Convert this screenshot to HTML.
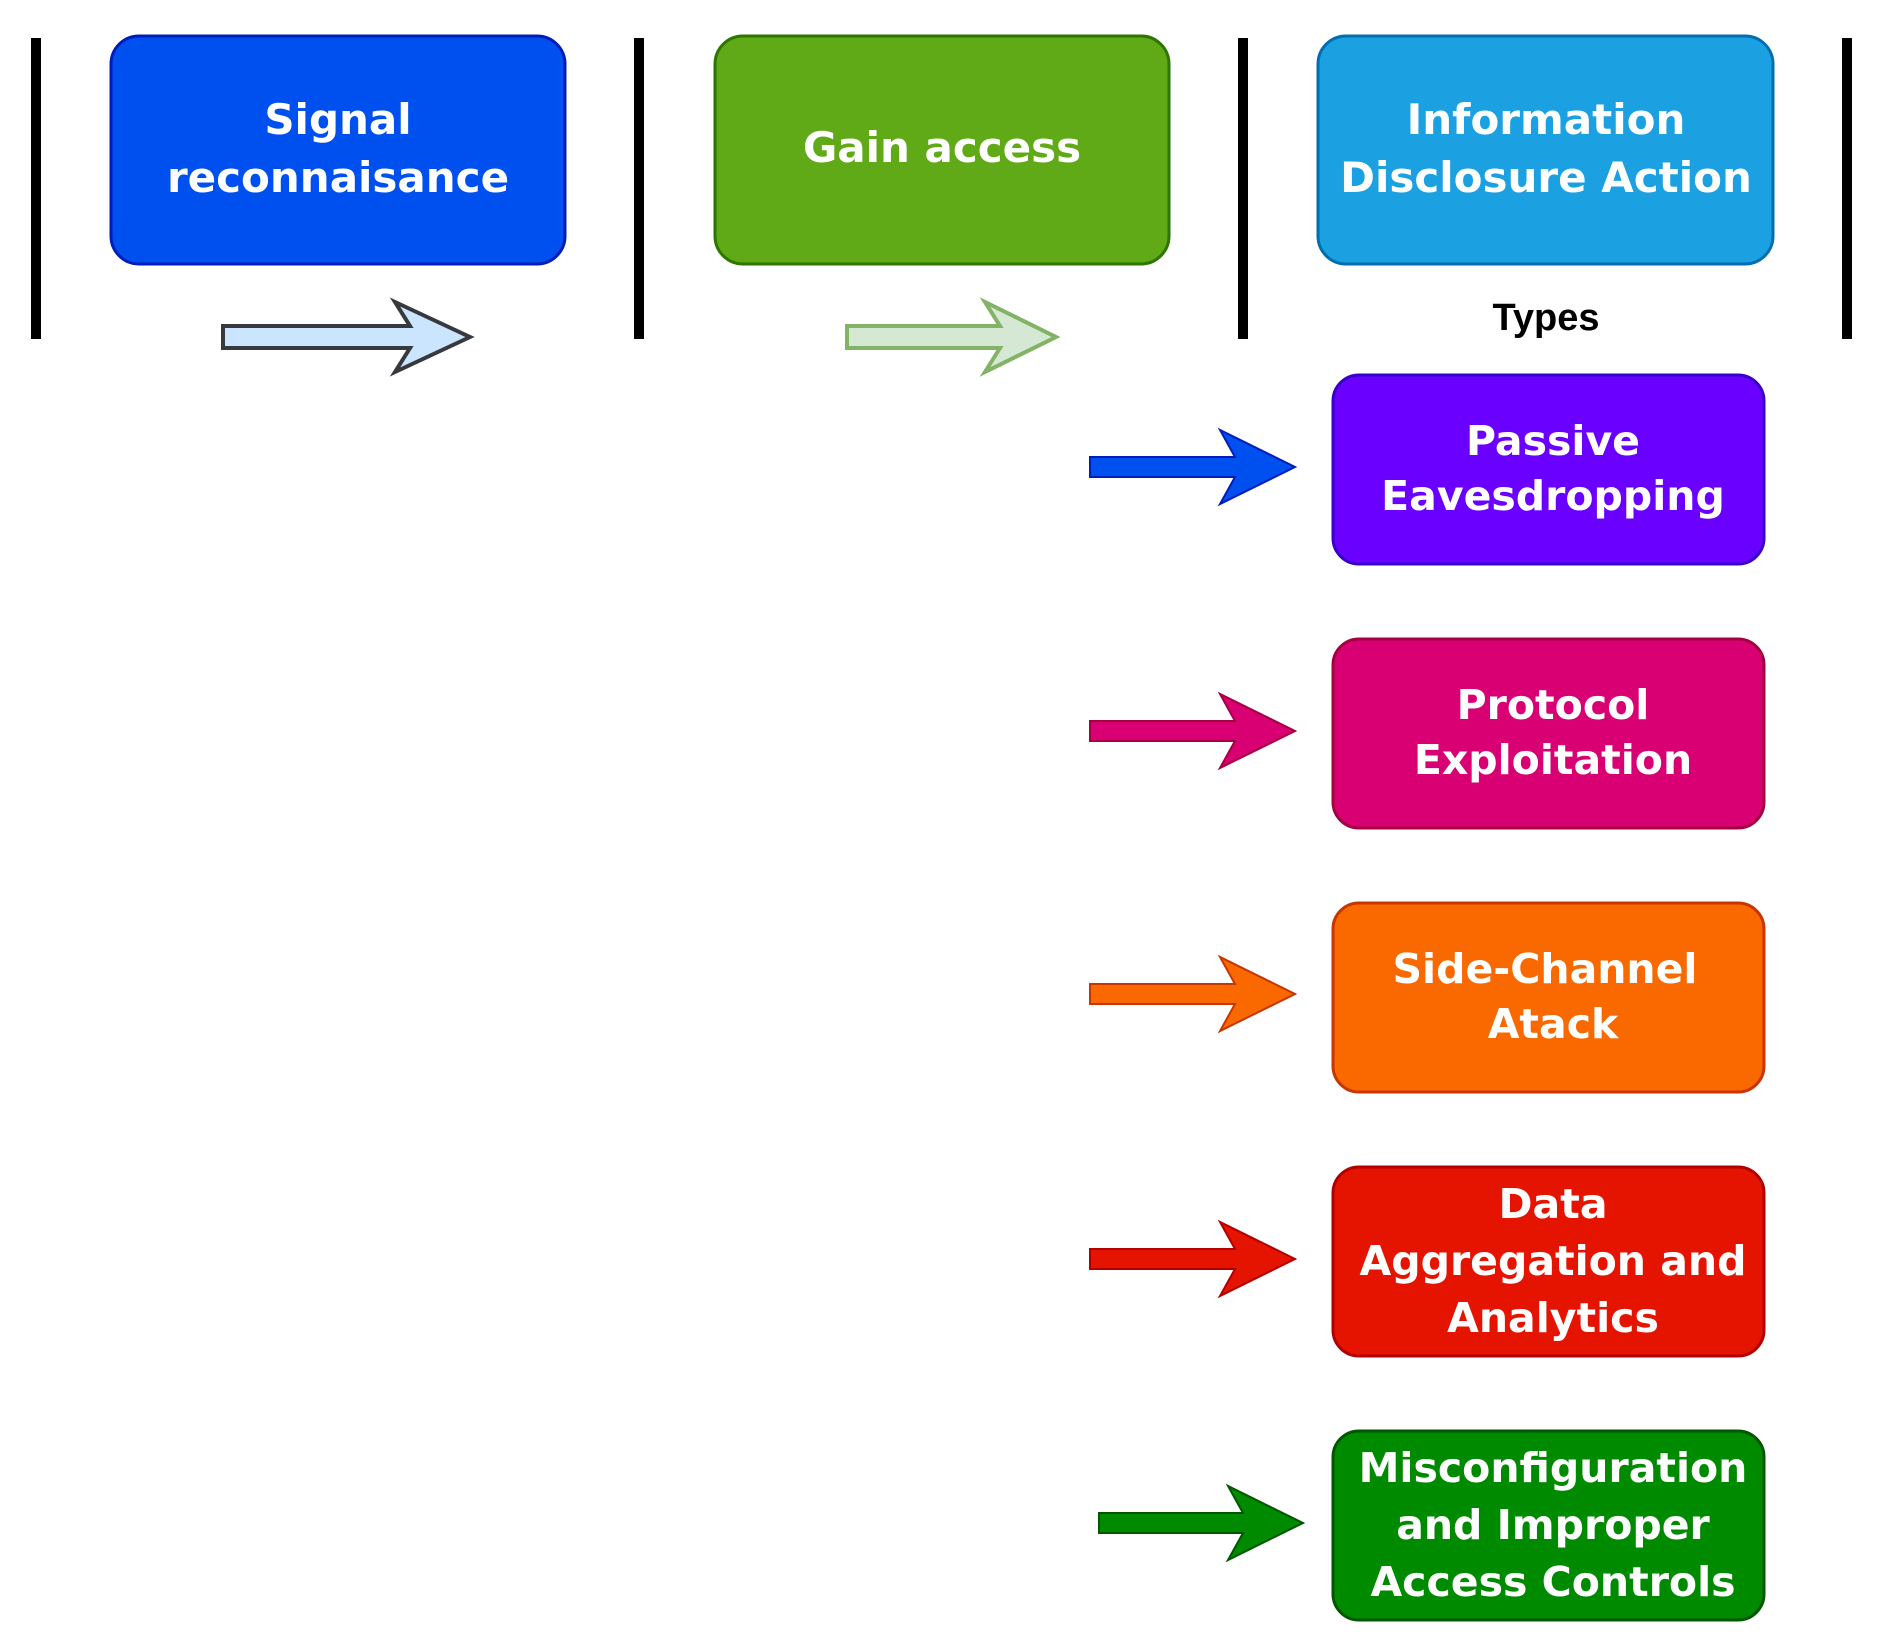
<!DOCTYPE html>
<html><head><meta charset="utf-8"><style>
html,body{margin:0;padding:0;background:#fff;}
svg{display:block;}
text{font-family:"DejaVu Sans","Liberation Sans",sans-serif;font-weight:bold;fill:#fff;text-anchor:middle;}
</style></head><body>
<svg width="1877" height="1644" viewBox="0 0 1877 1644" xmlns="http://www.w3.org/2000/svg">
<g fill="#000">
<rect x="31" y="38" width="10" height="301"/>
<rect x="634" y="38" width="10" height="301"/>
<rect x="1238" y="38" width="10" height="301"/>
<rect x="1842" y="38" width="10" height="301"/>
</g>
<rect x="111" y="36" width="454" height="228" rx="28" fill="#0050ef" stroke="#001dbc" stroke-width="3"/>
<rect x="715" y="36" width="454" height="228" rx="28" fill="#60a917" stroke="#2d7600" stroke-width="3"/>
<rect x="1318" y="36" width="455" height="228" rx="28" fill="#1ba1e2" stroke="#006eaf" stroke-width="3"/>
<g font-size="42">
<text x="338" y="134">Signal</text>
<text x="338" y="192">reconnaisance</text>
<text x="942" y="162">Gain access</text>
<text x="1546" y="134">Information</text>
<text x="1546" y="192">Disclosure Action</text>
</g>
<text x="1546" y="330" font-size="38" style="fill:#000;font-family:'Liberation Sans',sans-serif">Types</text>
<path d="M223,326 H410 L395,302 L470,337 L395,372 L410,348 H223 Z" fill="#cce5ff" stroke="#36393d" stroke-width="4"/>
<path d="M847,326 H1000 L985,302 L1056,337 L985,372 L1000,348 H847 Z" fill="#d5e8d4" stroke="#82b366" stroke-width="4"/>
<g stroke-width="2">
<path d="M1090,457 H1235 L1220,430 L1295,467 L1220,504 L1235,477 H1090 Z" fill="#0050ef" stroke="#001dbc"/>
<path d="M1090,721 H1235 L1220,694 L1295,731 L1220,768 L1235,741 H1090 Z" fill="#d80073" stroke="#a50040"/>
<path d="M1090,984 H1235 L1220,957 L1295,994 L1220,1031 L1235,1004 H1090 Z" fill="#fa6800" stroke="#c73500"/>
<path d="M1090,1249 H1235 L1220,1222 L1295,1259 L1220,1296 L1235,1269 H1090 Z" fill="#e51400" stroke="#b20000"/>
<path d="M1099,1513 H1243 L1228,1486 L1303,1523 L1228,1560 L1243,1533 H1099 Z" fill="#008a00" stroke="#005700"/>
</g>
<g stroke-width="3">
<rect x="1333" y="375" width="431" height="189" rx="26" fill="#6a00ff" stroke="#3700cc"/>
<rect x="1333" y="639" width="431" height="189" rx="26" fill="#d80073" stroke="#a50040"/>
<rect x="1333" y="903" width="431" height="189" rx="26" fill="#fa6800" stroke="#c73500"/>
<rect x="1333" y="1167" width="431" height="189" rx="26" fill="#e51400" stroke="#b20000"/>
<rect x="1333" y="1431" width="431" height="189" rx="26" fill="#008a00" stroke="#005700"/>
</g>
<g font-size="41">
<text x="1553" y="455">Passive</text>
<text x="1553" y="510">Eavesdropping</text>
<text x="1553" y="719">Protocol</text>
<text x="1553" y="774">Exploitation</text>
<text x="1545" y="983">Side-Channel</text>
<text x="1553" y="1038">Atack</text>
<text x="1553" y="1218">Data</text>
<text x="1553" y="1275">Aggregation and</text>
<text x="1553" y="1332">Analytics</text>
<text x="1553" y="1482">Misconfiguration</text>
<text x="1553" y="1539">and Improper</text>
<text x="1553" y="1596">Access Controls</text>
</g>
</svg>
</body></html>
